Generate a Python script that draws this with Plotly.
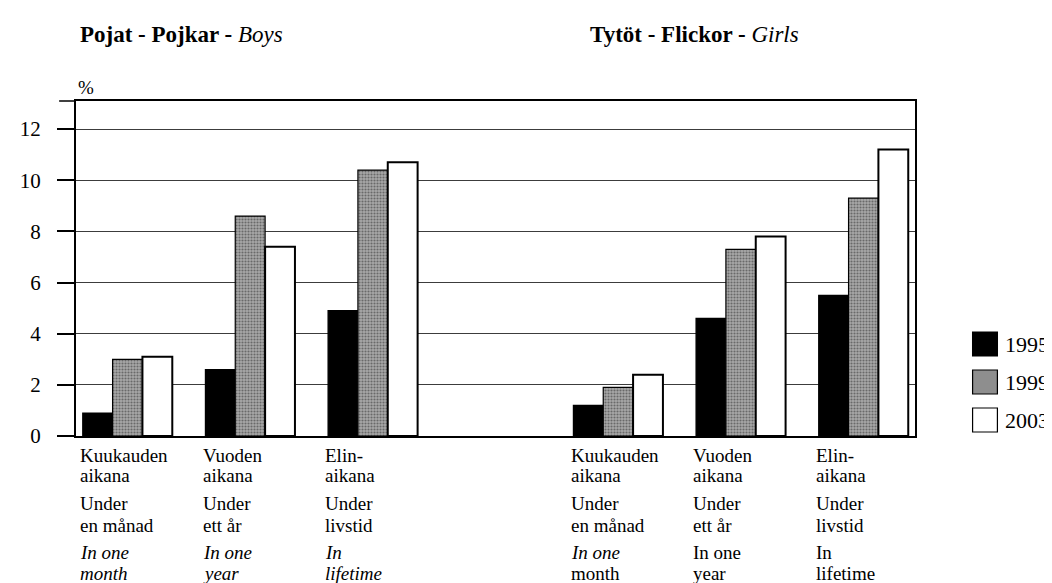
import plotly.graph_objects as go

# ---------------- data ----------------
years = ["1995", "1999", "2003"]
group_pos = [0, 1, 2, 4, 5, 6]          # boys: 0-2, girls: 4-6
boys_1995 = [0.9, 2.6, 4.9]
boys_1999 = [3.0, 8.6, 10.4]
boys_2003 = [3.1, 7.4, 10.7]
girls_1995 = [1.2, 4.6, 5.5]
girls_1999 = [1.9, 7.3, 9.3]
girls_2003 = [2.4, 7.8, 11.2]

y_ticks = [0, 2, 4, 6, 8, 10, 12]

fi_labels = [["Kuukauden", "aikana"], ["Vuoden", "aikana"], ["Elin-", "aikana"]]
sv_labels = [["Under", "en månad"], ["Under", "ett år"], ["Under", "livstid"]]
en_labels_boys = [["<i>In one</i>", "<i>month</i>"], ["<i>In one</i>", "<i>year</i>"],
                  ["<i>In</i>", "<i>lifetime</i>"]]
en_labels_girls = [["<i>In one</i>", "month"], ["In one", "year"], ["In", "lifetime"]]

title_boys = "<b>Pojat - Pojkar -</b> <i>Boys</i>"
title_girls = "<b>Tytöt - Flickor -</b> <i>Girls</i>"

# ---------------- geometry helpers ----------------
W, H = 1052, 583
L, R, T, B = 62, 907, 93, 428
FONT = "Liberation Serif"


def px2x(px):
    return (px - L) / (R - L)


def py2y(py):
    return (B - py) / (B - T)


series = {
    "1995": boys_1995 + girls_1995,
    "1999": boys_1999 + girls_1999,
    "2003": boys_2003 + girls_2003,
}

styles = {
    "1995": dict(color="#000000", line=dict(color="#000000", width=1.2)),
    "1999": dict(color="#9a9a9a", line=dict(color="#000000", width=1.2),
                 pattern=dict(shape=".", fgcolor="#2a2a2a", bgcolor="#a8a8a8",
                              size=3, solidity=0.4)),
    "2003": dict(color="#ffffff", line=dict(color="#000000", width=2)),
}

fig = go.Figure()
for yr in years:
    fig.add_trace(go.Bar(x=group_pos, y=series[yr], name=yr,
                         marker=styles[yr], showlegend=False))

fig.update_layout(
    width=W, height=H,
    margin=dict(l=L, r=W - R, t=T, b=H - B),
    paper_bgcolor="white", plot_bgcolor="white",
    barmode="group", bargap=0.27, bargroupgap=0,
    font=dict(family=FONT, color="black"),
    xaxis=dict(range=[-0.42, 6.42], showticklabels=False, ticks="",
               showgrid=False, zeroline=False, showline=True,
               linecolor="black", linewidth=1.5, mirror=True),
    yaxis=dict(range=[0, 13.1], tickvals=y_ticks, ticktext=[str(v) for v in y_ticks],
               ticks="outside", ticklen=17, tickwidth=1.5, tickcolor="black",
               tickfont=dict(size=21, family=FONT), ticklabelstandoff=12,
               showgrid=True, gridcolor="#3c3c3c", gridwidth=1,
               zeroline=False, showline=True, linecolor="black", linewidth=2,
               mirror=True),
)

ann = []
# titles
ann.append(dict(text=title_boys, xref="paper", yref="paper", x=px2x(64), y=py2y(26),
                xanchor="left", yanchor="middle", showarrow=False,
                font=dict(size=23, family=FONT)))
ann.append(dict(text=title_girls, xref="paper", yref="paper", x=px2x(578), y=py2y(26),
                xanchor="left", yanchor="middle", showarrow=False,
                font=dict(size=23, family=FONT)))
# percent sign
ann.append(dict(text="%", xref="paper", yref="paper", x=px2x(62), y=py2y(80),
                xanchor="left", yanchor="middle", showarrow=False,
                font=dict(size=19, family=FONT)))

# category labels
line_y = [447, 468, 496, 517, 544, 565]
for i, pos in enumerate(group_pos):
    k = i % 3
    en = en_labels_boys if i < 3 else en_labels_girls
    lines = fi_labels[k] + sv_labels[k] + en[k]
    for txt, py in zip(lines, line_y):
        ann.append(dict(text=txt, xref="x", yref="paper", x=pos - 0.395, y=py2y(py),
                        xanchor="left", yanchor="middle", showarrow=False,
                        borderpad=0, font=dict(size=19, family=FONT)))

# legend (manual)
leg_y = [336, 374, 412]
shapes = []
for yr, cy in zip(years, leg_y):
    st = styles[yr]
    shapes.append(dict(type="rect", xref="paper", yref="paper",
                       x0=px2x(965), x1=px2x(990), y0=py2y(cy + 12), y1=py2y(cy - 12),
                       fillcolor=st["color"] if yr != "1999" else "#8e8e8e",
                       line=dict(color="black", width=1.2)))
    ann.append(dict(text=yr, xref="paper", yref="paper", x=px2x(996), y=py2y(cy),
                    xanchor="left", yanchor="middle", showarrow=False,
                    font=dict(size=22, family=FONT)))

# top border extension to the left (like a tick)
shapes.append(dict(type="line", xref="paper", yref="paper", x0=px2x(45), x1=0,
                   y0=1, y1=1, line=dict(color="black", width=1.5)))

fig.update_layout(annotations=ann, shapes=shapes)
fig.write_html("out.html")
